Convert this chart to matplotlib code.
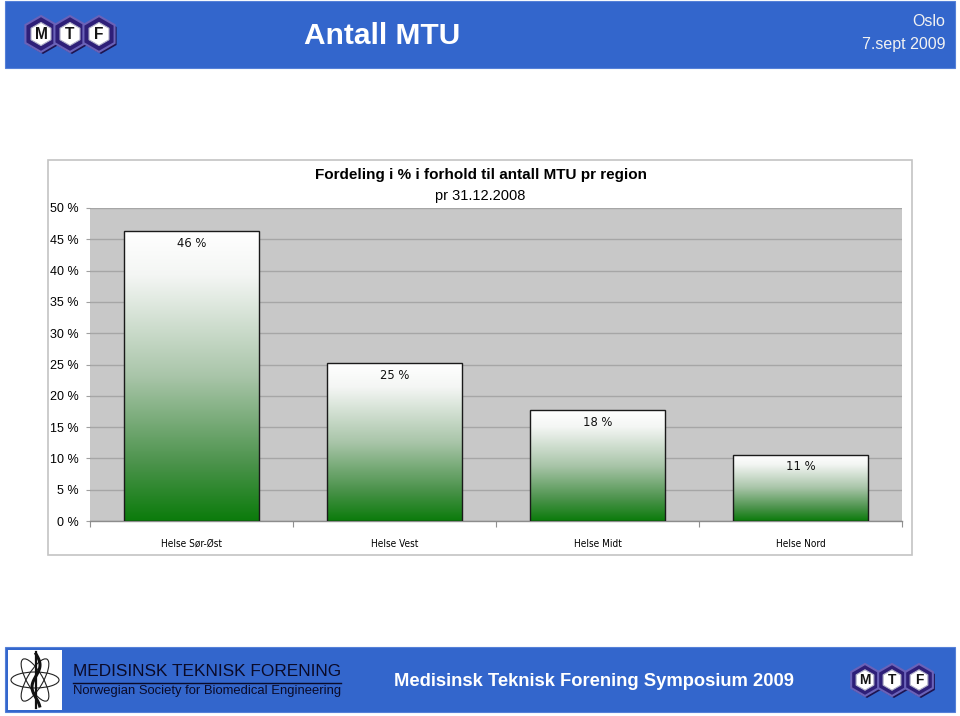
import numpy as np
import matplotlib
matplotlib.use("Agg")
import matplotlib.pyplot as plt
from matplotlib import font_manager
from matplotlib.colors import LinearSegmentedColormap
from matplotlib.patches import Rectangle, RegularPolygon, Ellipse

# data
regions = ["Helse Sør-Øst", "Helse Vest", "Helse Midt", "Helse Nord"]
shares = [46.3, 25.2, 17.7, 10.6]
share_labels = ["46 %", "25 %", "18 %", "11 %"]
y_ticks = [0, 5, 10, 15, 20, 25, 30, 35, 40, 45, 50]
y_tick_labels = [f"{t} %" for t in y_ticks]

chart_title = "Fordeling i % i forhold til antall MTU pr region"
chart_subtitle = "pr 31.12.2008"

plt.rcParams['font.family'] = ['Liberation Sans', 'DejaVu Sans']

# condensed face for the small chart labels, if one is around
fonts = font_manager.fontManager.ttflist
if any(f.name == 'Liberation Sans Narrow' for f in fonts):
    narrow = dict(family=['Liberation Sans Narrow', 'DejaVu Sans'])
    bar_fs, cat_fs = 10.5, 8.2
elif any(f.name == 'DejaVu Sans' and f.stretch == 'condensed' for f in fonts):
    narrow = dict(family=['DejaVu Sans'], fontstretch='condensed')
    bar_fs, cat_fs = 9.3, 7.2
else:
    narrow = dict(family=['Liberation Sans', 'DejaVu Sans'])
    bar_fs, cat_fs = 9, 7

W, H = 960, 716
BLUE = '#3366CC'


def px(l, t, r, b):
    return [l / W, 1 - b / H, (r - l) / W, (b - t) / H]


def draw_mtf(ax, xs, cy, r):
    for cx, letter in zip(xs, "MTF"):
        ax.add_patch(RegularPolygon((cx + 2, cy + 2), 6, radius=r, orientation=0,
                                    fc='#1E1450', ec='none', zorder=5))
        ax.add_patch(RegularPolygon((cx, cy), 6, radius=r, orientation=0,
                                    fc='#2E1F78', ec='#6A62B8', lw=1.5, zorder=6))
        ax.add_patch(RegularPolygon((cx, cy), 6, radius=r * 0.64, orientation=0,
                                    fc='white', ec='#B0B0C8', lw=0.8, zorder=7))
        ax.text(cx, cy + 0.5, letter, ha='center', va='center', fontsize=r * 0.62,
                fontweight='bold', color='#151515', zorder=8)


fig = plt.figure(figsize=(9.6, 7.16), dpi=100)
bg = fig.add_axes([0, 0, 1, 1])
bg.set_xlim(0, W)
bg.set_ylim(H, 0)
bg.axis('off')

# header band
bg.add_patch(Rectangle((5, 1), 950, 67, fc=BLUE, ec='#5580D8', lw=0.8))
draw_mtf(bg, [41, 70, 99], 34, 18)
bg.text(304, 36, "Antall MTU", ha='left', va='center', fontsize=21.5,
        fontweight='bold', color='white')
bg.text(945, 22, "Oslo", ha='right', va='center', fontsize=11.5, color='#F2F2F2')
bg.text(945, 45, "7.sept 2009", ha='right', va='center', fontsize=11.5, color='#F2F2F2')

# footer band
bg.add_patch(Rectangle((5, 647), 950, 65, fc=BLUE, ec='#5580D8', lw=0.8))
bg.add_patch(Rectangle((8, 650), 54, 60, fc='white', ec='none'))
for ang in (0, 60, -60):
    bg.add_patch(Ellipse((35, 680), 48, 16, angle=ang, fc='none', ec='#222222', lw=0.8))
yy = np.linspace(654, 706, 60)
bg.plot(36 + 4 * np.sin((yy - 654) / 7), yy, color='#111111', lw=2.2)
bg.plot([36, 36], [652, 708], color='#111111', lw=1.6)
bg.text(73, 672, "MEDISINSK TEKNISK FORENING", ha='left', va='center',
        fontsize=12.4, color='#0A0A28')
bg.plot([73, 341], [683, 683], color='#0A0A28', lw=1)
bg.text(73, 691, "Norwegian Society for Biomedical Engineering", ha='left', va='center',
        fontsize=9.4, color='#0A0A28')
bg.text(594, 682, "Medisinsk Teknisk Forening Symposium 2009", ha='center', va='center',
        fontsize=13.2, fontweight='bold', color='white')
draw_mtf(bg, [865, 892, 919], 680, 16)

# chart frame and titles
bg.add_patch(Rectangle((48, 160), 864, 395, fc='white', ec='#C4C4C4', lw=1.2))
bg.text(481, 175, chart_title, ha='center', va='center', fontsize=11,
        fontweight='bold', color='black')
bg.text(480, 196, chart_subtitle, ha='center', va='center', fontsize=10.5, color='black')

# plot area
ax = fig.add_axes(px(90, 208, 902, 521))
ax.set_facecolor('#C8C8C8')

cmap = LinearSegmentedColormap.from_list(
    'bar', [(0.0, '#FFFFFF'), (0.15, '#F4F6F4'), (0.5, '#A9C5A9'),
            (0.8, '#4C934C'), (1.0, '#0B7B0B')])
grad = np.linspace(0, 1, 256).reshape(-1, 1)

x = np.arange(len(regions))
bars = ax.bar(x, shares, width=0.667, facecolor='none', edgecolor='#1A1A1A',
              lw=1, zorder=4)
for bar, lab in zip(bars, share_labels):
    x0, h = bar.get_x(), bar.get_height()
    im = ax.imshow(grad, cmap=cmap, extent=[x0, x0 + bar.get_width(), 0, h],
                   aspect='auto', origin='upper', zorder=3, interpolation='bilinear')
    im.set_clip_path(bar)
    ax.text(bar.get_x() + bar.get_width() / 2, h - 1.9, lab, ha='center', va='center',
            fontsize=bar_fs, color='#111111', zorder=5, **narrow)

ax.set_xlim(-0.5, len(regions) - 0.5)
ax.set_ylim(0, 50)
ax.set_yticks(y_ticks)
ax.set_yticklabels(y_tick_labels, fontsize=9)
ax.set_xticks(x)
ax.set_xticklabels(regions, fontsize=cat_fs, **narrow)
ax.set_xticks(np.arange(-0.5, len(regions)), minor=True)
ax.tick_params(axis='x', which='major', length=0, pad=13)
ax.tick_params(axis='x', which='minor', length=4, color='#909090', width=0.8)
ax.tick_params(axis='y', length=3, color='#A0A0A0', width=0.8, pad=5)
ax.yaxis.grid(True, color='#A6A6A6', lw=1)
ax.set_axisbelow(True)
for side in ('top', 'left', 'right'):
    ax.spines[side].set_visible(False)
ax.spines['bottom'].set_color('#8C8C8C')
ax.spines['bottom'].set_linewidth(1)

fig.savefig("out.png", dpi=100)
